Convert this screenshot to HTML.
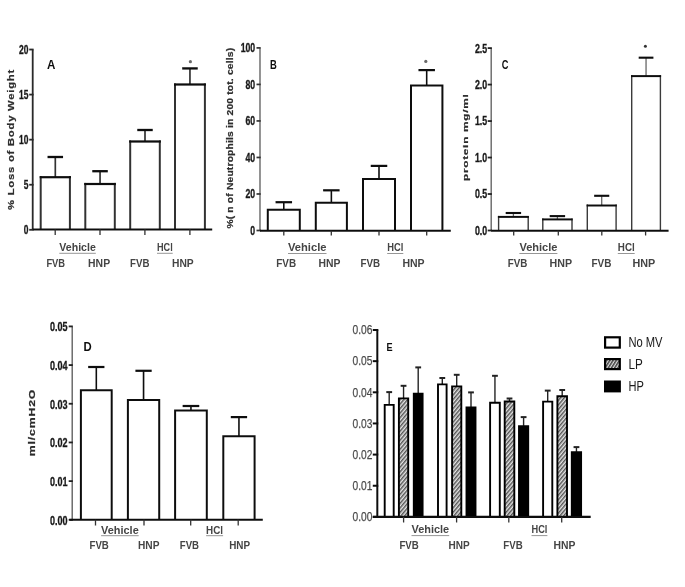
<!DOCTYPE html>
<html><head><meta charset="utf-8"><style>
html,body{margin:0;padding:0;background:#fff;}
body{width:685px;height:587px;overflow:hidden;}
svg{display:block;}
</style></head><body>
<svg width="685" height="587" viewBox="0 0 685 587" font-family='"Liberation Sans", sans-serif'>
<defs><filter id="soft" x="0" y="0" width="100%" height="100%"><feGaussianBlur stdDeviation="0.4"/></filter><pattern id="hatch" patternUnits="userSpaceOnUse" width="2.9" height="2.9" patternTransform="rotate(40)"><rect width="2.9" height="2.9" fill="#e4e4e4"/><rect width="1.45" height="2.9" fill="#555"/></pattern><pattern id="hatch2" patternUnits="userSpaceOnUse" width="2.7" height="2.7" patternTransform="rotate(32)"><rect width="2.7" height="2.7" fill="#e0e0e0"/><rect width="1.5" height="2.7" fill="#444"/></pattern></defs>
<rect width="685" height="587" fill="#fff"/>
<g filter="url(#soft)">
<line x1="32.7" y1="49.5" x2="32.7" y2="229.6" stroke="#2a2a2a" stroke-width="1.8"/>
<line x1="29.2" y1="229.8" x2="33.6" y2="229.8" stroke="#2a2a2a" stroke-width="1.8"/>
<text x="28.4" y="234.2" font-size="12.5" font-weight="bold" fill="#1a1a1a" text-anchor="end" textLength="4.7" lengthAdjust="spacingAndGlyphs" stroke="#1a1a1a" stroke-width="0.35">0</text>
<line x1="29.2" y1="184.73" x2="33.6" y2="184.73" stroke="#2a2a2a" stroke-width="1.8"/>
<text x="28.4" y="189.13" font-size="12.5" font-weight="bold" fill="#1a1a1a" text-anchor="end" textLength="4.7" lengthAdjust="spacingAndGlyphs" stroke="#1a1a1a" stroke-width="0.35">5</text>
<line x1="29.2" y1="139.66" x2="33.6" y2="139.66" stroke="#2a2a2a" stroke-width="1.8"/>
<text x="28.4" y="144.06" font-size="12.5" font-weight="bold" fill="#1a1a1a" text-anchor="end" textLength="9.4" lengthAdjust="spacingAndGlyphs" stroke="#1a1a1a" stroke-width="0.35">10</text>
<line x1="29.2" y1="94.59" x2="33.6" y2="94.59" stroke="#2a2a2a" stroke-width="1.8"/>
<text x="28.4" y="98.99" font-size="12.5" font-weight="bold" fill="#1a1a1a" text-anchor="end" textLength="9.4" lengthAdjust="spacingAndGlyphs" stroke="#1a1a1a" stroke-width="0.35">15</text>
<line x1="29.2" y1="49.52" x2="33.6" y2="49.52" stroke="#2a2a2a" stroke-width="1.8"/>
<text x="28.4" y="53.92" font-size="12.5" font-weight="bold" fill="#1a1a1a" text-anchor="end" textLength="9.4" lengthAdjust="spacingAndGlyphs" stroke="#1a1a1a" stroke-width="0.35">20</text>
<line x1="55.3" y1="177.2" x2="55.3" y2="157.0" stroke="#333" stroke-width="1.7"/>
<line x1="47.55" y1="157.0" x2="63.05" y2="157.0" stroke="#0a0a0a" stroke-width="2.3"/>
<rect x="40.7" y="177.2" width="29.20" height="52.40" fill="#fff"/>
<line x1="40.7" y1="229.6" x2="40.7" y2="176.1" stroke="#333" stroke-width="2.0"/>
<line x1="69.9" y1="229.6" x2="69.9" y2="176.1" stroke="#333" stroke-width="2.0"/>
<line x1="39.7" y1="177.2" x2="70.9" y2="177.2" stroke="#0a0a0a" stroke-width="2.2"/>
<line x1="100.05" y1="184.0" x2="100.05" y2="171.2" stroke="#333" stroke-width="1.7"/>
<line x1="92.3" y1="171.2" x2="107.8" y2="171.2" stroke="#0a0a0a" stroke-width="2.3"/>
<rect x="85.3" y="184.0" width="29.50" height="45.60" fill="#fff"/>
<line x1="85.3" y1="229.6" x2="85.3" y2="182.9" stroke="#333" stroke-width="2.0"/>
<line x1="114.8" y1="229.6" x2="114.8" y2="182.9" stroke="#333" stroke-width="2.0"/>
<line x1="84.3" y1="184.0" x2="115.8" y2="184.0" stroke="#0a0a0a" stroke-width="2.2"/>
<line x1="145.0" y1="141.5" x2="145.0" y2="130.0" stroke="#333" stroke-width="1.7"/>
<line x1="137.25" y1="130.0" x2="152.75" y2="130.0" stroke="#0a0a0a" stroke-width="2.3"/>
<rect x="130.2" y="141.5" width="29.60" height="88.10" fill="#fff"/>
<line x1="130.2" y1="229.6" x2="130.2" y2="140.4" stroke="#333" stroke-width="2.0"/>
<line x1="159.8" y1="229.6" x2="159.8" y2="140.4" stroke="#333" stroke-width="2.0"/>
<line x1="129.2" y1="141.5" x2="160.8" y2="141.5" stroke="#0a0a0a" stroke-width="2.2"/>
<line x1="189.95" y1="84.5" x2="189.95" y2="68.4" stroke="#333" stroke-width="1.7"/>
<line x1="182.2" y1="68.4" x2="197.7" y2="68.4" stroke="#0a0a0a" stroke-width="2.3"/>
<rect x="175.0" y="84.5" width="29.90" height="145.10" fill="#fff"/>
<line x1="175.0" y1="229.6" x2="175.0" y2="83.4" stroke="#333" stroke-width="2.0"/>
<line x1="204.9" y1="229.6" x2="204.9" y2="83.4" stroke="#333" stroke-width="2.0"/>
<line x1="174.0" y1="84.5" x2="205.9" y2="84.5" stroke="#0a0a0a" stroke-width="2.2"/>
<line x1="32.7" y1="229.6" x2="212.2" y2="229.6" stroke="#111" stroke-width="2.0"/>
<line x1="55.2" y1="229.6" x2="55.2" y2="235" stroke="#333" stroke-width="1.3"/>
<line x1="100.0" y1="229.6" x2="100.0" y2="235" stroke="#333" stroke-width="1.3"/>
<line x1="144.9" y1="229.6" x2="144.9" y2="235" stroke="#333" stroke-width="1.3"/>
<line x1="189.9" y1="229.6" x2="189.9" y2="235" stroke="#333" stroke-width="1.3"/>
<circle cx="190.4" cy="61.7" r="1.6" fill="#6a6a6a"/>
<text x="47" y="69.3" font-size="12" font-weight="bold" fill="#111" text-anchor="start" textLength="8.4" lengthAdjust="spacingAndGlyphs">A</text>
<text transform="translate(13.9 210) rotate(-90) scale(1.3057 1)" font-size="8.6" font-weight="bold" fill="#2e2e2e" stroke="#2e2e2e" stroke-width="0.2" letter-spacing="0.6">% Loss of Body Weight</text>
<text x="59.3" y="251.1" font-size="10" font-weight="bold" fill="#444" text-anchor="start" textLength="36.5" lengthAdjust="spacingAndGlyphs">Vehicle</text>
<line x1="59.3" y1="253.3" x2="95.8" y2="253.3" stroke="#8a8a8a" stroke-width="0.9"/>
<text x="157" y="251.1" font-size="10" font-weight="bold" fill="#444" text-anchor="start" textLength="15.7" lengthAdjust="spacingAndGlyphs">HCl</text>
<line x1="157" y1="253.3" x2="172.7" y2="253.3" stroke="#8a8a8a" stroke-width="0.9"/>
<text x="46.4" y="266.5" font-size="10" font-weight="bold" fill="#444" text-anchor="start" textLength="18.7" lengthAdjust="spacingAndGlyphs">FVB</text>
<text x="88.1" y="266.5" font-size="10" font-weight="bold" fill="#444" text-anchor="start" textLength="22.0" lengthAdjust="spacingAndGlyphs">HNP</text>
<text x="130" y="266.5" font-size="10" font-weight="bold" fill="#444" text-anchor="start" textLength="19.4" lengthAdjust="spacingAndGlyphs">FVB</text>
<text x="172" y="266.5" font-size="10" font-weight="bold" fill="#444" text-anchor="start" textLength="21.7" lengthAdjust="spacingAndGlyphs">HNP</text>
<line x1="260" y1="48.3" x2="260" y2="230.7" stroke="#666" stroke-width="1.4"/>
<line x1="256.5" y1="230.5" x2="260.7" y2="230.5" stroke="#333" stroke-width="1.7"/>
<text x="255.2" y="234.9" font-size="12.5" font-weight="bold" fill="#1a1a1a" text-anchor="end" textLength="4.85" lengthAdjust="spacingAndGlyphs" stroke="#1a1a1a" stroke-width="0.35">0</text>
<line x1="256.5" y1="193.98" x2="260.7" y2="193.98" stroke="#333" stroke-width="1.7"/>
<text x="255.2" y="198.38" font-size="12.5" font-weight="bold" fill="#1a1a1a" text-anchor="end" textLength="9.7" lengthAdjust="spacingAndGlyphs" stroke="#1a1a1a" stroke-width="0.35">20</text>
<line x1="256.5" y1="157.46" x2="260.7" y2="157.46" stroke="#333" stroke-width="1.7"/>
<text x="255.2" y="161.86" font-size="12.5" font-weight="bold" fill="#1a1a1a" text-anchor="end" textLength="9.7" lengthAdjust="spacingAndGlyphs" stroke="#1a1a1a" stroke-width="0.35">40</text>
<line x1="256.5" y1="120.94" x2="260.7" y2="120.94" stroke="#333" stroke-width="1.7"/>
<text x="255.2" y="125.34" font-size="12.5" font-weight="bold" fill="#1a1a1a" text-anchor="end" textLength="9.7" lengthAdjust="spacingAndGlyphs" stroke="#1a1a1a" stroke-width="0.35">60</text>
<line x1="256.5" y1="84.42" x2="260.7" y2="84.42" stroke="#333" stroke-width="1.7"/>
<text x="255.2" y="88.82" font-size="12.5" font-weight="bold" fill="#1a1a1a" text-anchor="end" textLength="9.7" lengthAdjust="spacingAndGlyphs" stroke="#1a1a1a" stroke-width="0.35">80</text>
<line x1="256.5" y1="47.9" x2="260.7" y2="47.9" stroke="#333" stroke-width="1.7"/>
<text x="255.2" y="52.3" font-size="12.5" font-weight="bold" fill="#1a1a1a" text-anchor="end" textLength="14.55" lengthAdjust="spacingAndGlyphs" stroke="#1a1a1a" stroke-width="0.35">100</text>
<line x1="283.8" y1="209.7" x2="283.8" y2="202.2" stroke="#111" stroke-width="1.6"/>
<line x1="275.55" y1="202.2" x2="292.05" y2="202.2" stroke="#111" stroke-width="2.2"/>
<path d="M267.8 230.7 V209.7 H299.8 V230.7" fill="#fff" stroke="#111" stroke-width="2.0"/>
<line x1="331.35" y1="202.7" x2="331.35" y2="190.3" stroke="#111" stroke-width="1.6"/>
<line x1="323.1" y1="190.3" x2="339.6" y2="190.3" stroke="#111" stroke-width="2.2"/>
<path d="M315.8 230.7 V202.7 H346.9 V230.7" fill="#fff" stroke="#111" stroke-width="2.0"/>
<line x1="379.0" y1="178.9" x2="379.0" y2="165.9" stroke="#111" stroke-width="1.6"/>
<line x1="370.75" y1="165.9" x2="387.25" y2="165.9" stroke="#111" stroke-width="2.2"/>
<path d="M363.0 230.7 V178.9 H395.0 V230.7" fill="#fff" stroke="#111" stroke-width="2.0"/>
<line x1="426.7" y1="85.5" x2="426.7" y2="70.1" stroke="#111" stroke-width="1.6"/>
<line x1="418.45" y1="70.1" x2="434.95" y2="70.1" stroke="#111" stroke-width="2.2"/>
<path d="M411.0 230.7 V85.5 H442.4 V230.7" fill="#fff" stroke="#111" stroke-width="2.0"/>
<line x1="260" y1="230.7" x2="450.8" y2="230.7" stroke="#111" stroke-width="2.0"/>
<line x1="283.8" y1="230.7" x2="283.8" y2="235.5" stroke="#333" stroke-width="1.3"/>
<line x1="331.3" y1="230.7" x2="331.3" y2="235.5" stroke="#333" stroke-width="1.3"/>
<line x1="379.0" y1="230.7" x2="379.0" y2="235.5" stroke="#333" stroke-width="1.3"/>
<line x1="426.7" y1="230.7" x2="426.7" y2="235.5" stroke="#333" stroke-width="1.3"/>
<circle cx="425.8" cy="61.4" r="1.6" fill="#6a6a6a"/>
<text x="270.0" y="68.9" font-size="12" font-weight="bold" fill="#111" text-anchor="start" textLength="6.8" lengthAdjust="spacingAndGlyphs">B</text>
<text transform="translate(233.2 228.6) rotate(-90) scale(1.1953 1)" font-size="8.6" font-weight="bold" fill="#2e2e2e" stroke="#2e2e2e" stroke-width="0.2" letter-spacing="0.15">%( n of Neutrophils in 200 tot. cells)</text>
<text x="288" y="251.3" font-size="10" font-weight="bold" fill="#444" text-anchor="start" textLength="38.5" lengthAdjust="spacingAndGlyphs">Vehicle</text>
<line x1="288" y1="253.5" x2="326.5" y2="253.5" stroke="#8a8a8a" stroke-width="0.9"/>
<text x="387.2" y="251.3" font-size="10" font-weight="bold" fill="#444" text-anchor="start" textLength="16.1" lengthAdjust="spacingAndGlyphs">HCl</text>
<line x1="387.2" y1="253.5" x2="403.3" y2="253.5" stroke="#8a8a8a" stroke-width="0.9"/>
<text x="276.3" y="266.5" font-size="10" font-weight="bold" fill="#444" text-anchor="start" textLength="19.8" lengthAdjust="spacingAndGlyphs">FVB</text>
<text x="318.6" y="266.5" font-size="10" font-weight="bold" fill="#444" text-anchor="start" textLength="21.9" lengthAdjust="spacingAndGlyphs">HNP</text>
<text x="360.4" y="266.5" font-size="10" font-weight="bold" fill="#444" text-anchor="start" textLength="19.6" lengthAdjust="spacingAndGlyphs">FVB</text>
<text x="402.4" y="266.5" font-size="10" font-weight="bold" fill="#444" text-anchor="start" textLength="22.2" lengthAdjust="spacingAndGlyphs">HNP</text>
<line x1="491.2" y1="48.4" x2="491.2" y2="230.7" stroke="#666" stroke-width="1.4"/>
<line x1="487.7" y1="230.5" x2="491.9" y2="230.5" stroke="#222" stroke-width="1.8"/>
<text x="487.2" y="234.9" font-size="12.5" font-weight="bold" fill="#1a1a1a" text-anchor="end" textLength="12.3" lengthAdjust="spacingAndGlyphs" stroke="#1a1a1a" stroke-width="0.35">0.0</text>
<line x1="487.7" y1="194.02" x2="491.9" y2="194.02" stroke="#222" stroke-width="1.8"/>
<text x="487.2" y="198.42" font-size="12.5" font-weight="bold" fill="#1a1a1a" text-anchor="end" textLength="12.3" lengthAdjust="spacingAndGlyphs" stroke="#1a1a1a" stroke-width="0.35">0.5</text>
<line x1="487.7" y1="157.54" x2="491.9" y2="157.54" stroke="#222" stroke-width="1.8"/>
<text x="487.2" y="161.94" font-size="12.5" font-weight="bold" fill="#1a1a1a" text-anchor="end" textLength="12.3" lengthAdjust="spacingAndGlyphs" stroke="#1a1a1a" stroke-width="0.35">1.0</text>
<line x1="487.7" y1="121.06" x2="491.9" y2="121.06" stroke="#222" stroke-width="1.8"/>
<text x="487.2" y="125.46" font-size="12.5" font-weight="bold" fill="#1a1a1a" text-anchor="end" textLength="12.3" lengthAdjust="spacingAndGlyphs" stroke="#1a1a1a" stroke-width="0.35">1.5</text>
<line x1="487.7" y1="84.58" x2="491.9" y2="84.58" stroke="#222" stroke-width="1.8"/>
<text x="487.2" y="88.98" font-size="12.5" font-weight="bold" fill="#1a1a1a" text-anchor="end" textLength="12.3" lengthAdjust="spacingAndGlyphs" stroke="#1a1a1a" stroke-width="0.35">2.0</text>
<line x1="487.7" y1="48.1" x2="491.9" y2="48.1" stroke="#222" stroke-width="1.8"/>
<text x="487.2" y="52.5" font-size="12.5" font-weight="bold" fill="#1a1a1a" text-anchor="end" textLength="12.3" lengthAdjust="spacingAndGlyphs" stroke="#1a1a1a" stroke-width="0.35">2.5</text>
<line x1="513.4" y1="216.9" x2="513.4" y2="213.0" stroke="#666" stroke-width="1.3"/>
<line x1="505.7" y1="213.0" x2="521.1" y2="213.0" stroke="#111" stroke-width="2.1"/>
<rect x="498.6" y="216.9" width="29.60" height="13.80" fill="#fff"/>
<line x1="498.6" y1="230.7" x2="498.6" y2="215.9" stroke="#3a3a3a" stroke-width="1.4"/>
<line x1="528.2" y1="230.7" x2="528.2" y2="215.9" stroke="#3a3a3a" stroke-width="1.4"/>
<line x1="497.9" y1="216.9" x2="528.9" y2="216.9" stroke="#111" stroke-width="2.0"/>
<line x1="557.4" y1="219.4" x2="557.4" y2="216.1" stroke="#666" stroke-width="1.3"/>
<line x1="549.7" y1="216.1" x2="565.1" y2="216.1" stroke="#111" stroke-width="2.1"/>
<rect x="542.8" y="219.4" width="29.20" height="11.30" fill="#fff"/>
<line x1="542.8" y1="230.7" x2="542.8" y2="218.4" stroke="#3a3a3a" stroke-width="1.4"/>
<line x1="572.0" y1="230.7" x2="572.0" y2="218.4" stroke="#3a3a3a" stroke-width="1.4"/>
<line x1="542.1" y1="219.4" x2="572.7" y2="219.4" stroke="#111" stroke-width="2.0"/>
<line x1="601.7" y1="205.5" x2="601.7" y2="195.8" stroke="#666" stroke-width="1.3"/>
<line x1="594.15" y1="195.8" x2="609.25" y2="195.8" stroke="#111" stroke-width="2.1"/>
<rect x="587.3" y="205.5" width="28.80" height="25.20" fill="#fff"/>
<line x1="587.3" y1="230.7" x2="587.3" y2="204.5" stroke="#3a3a3a" stroke-width="1.4"/>
<line x1="616.1" y1="230.7" x2="616.1" y2="204.5" stroke="#3a3a3a" stroke-width="1.4"/>
<line x1="586.6" y1="205.5" x2="616.8" y2="205.5" stroke="#111" stroke-width="2.0"/>
<line x1="646.05" y1="76.1" x2="646.05" y2="57.7" stroke="#666" stroke-width="1.3"/>
<line x1="638.7" y1="57.7" x2="653.4" y2="57.7" stroke="#111" stroke-width="2.1"/>
<rect x="631.7" y="76.1" width="28.70" height="154.60" fill="#fff"/>
<line x1="631.7" y1="230.7" x2="631.7" y2="75.1" stroke="#3a3a3a" stroke-width="1.4"/>
<line x1="660.4" y1="230.7" x2="660.4" y2="75.1" stroke="#3a3a3a" stroke-width="1.4"/>
<line x1="631.0" y1="76.1" x2="661.1" y2="76.1" stroke="#111" stroke-width="2.0"/>
<line x1="491.2" y1="230.7" x2="668.6" y2="230.7" stroke="#111" stroke-width="2.0"/>
<line x1="513.7" y1="230.7" x2="513.7" y2="235.5" stroke="#333" stroke-width="1.3"/>
<line x1="558.3" y1="230.7" x2="558.3" y2="235.5" stroke="#333" stroke-width="1.3"/>
<line x1="601.8" y1="230.7" x2="601.8" y2="235.5" stroke="#333" stroke-width="1.3"/>
<line x1="645.6" y1="230.7" x2="645.6" y2="235.5" stroke="#333" stroke-width="1.3"/>
<circle cx="645.4" cy="46.3" r="1.5" fill="#333"/>
<text x="501.8" y="69.1" font-size="12" font-weight="bold" fill="#111" text-anchor="start" textLength="6.7" lengthAdjust="spacingAndGlyphs">C</text>
<text transform="translate(468.0 181) rotate(-90) scale(1.4733 1)" font-size="8" font-weight="bold" fill="#2a2a2a" stroke="#2a2a2a" stroke-width="0.2" letter-spacing="0.5">protein mg/ml</text>
<text x="519.4" y="251.3" font-size="10" font-weight="bold" fill="#444" text-anchor="start" textLength="38.0" lengthAdjust="spacingAndGlyphs">Vehicle</text>
<line x1="519.4" y1="253.5" x2="557.4" y2="253.5" stroke="#8a8a8a" stroke-width="0.9"/>
<text x="617.8" y="251.3" font-size="10" font-weight="bold" fill="#444" text-anchor="start" textLength="16.9" lengthAdjust="spacingAndGlyphs">HCl</text>
<line x1="617.8" y1="253.5" x2="634.7" y2="253.5" stroke="#8a8a8a" stroke-width="0.9"/>
<text x="507.7" y="266.5" font-size="10" font-weight="bold" fill="#444" text-anchor="start" textLength="19.6" lengthAdjust="spacingAndGlyphs">FVB</text>
<text x="549.5" y="266.5" font-size="10" font-weight="bold" fill="#444" text-anchor="start" textLength="22.5" lengthAdjust="spacingAndGlyphs">HNP</text>
<text x="591.5" y="266.5" font-size="10" font-weight="bold" fill="#444" text-anchor="start" textLength="19.9" lengthAdjust="spacingAndGlyphs">FVB</text>
<text x="632.4" y="266.5" font-size="10" font-weight="bold" fill="#444" text-anchor="start" textLength="22.8" lengthAdjust="spacingAndGlyphs">HNP</text>
<line x1="72.2" y1="327.0" x2="72.2" y2="519.8" stroke="#555" stroke-width="1.3"/>
<line x1="68.7" y1="519.8" x2="72.85" y2="519.8" stroke="#222" stroke-width="1.8"/>
<text x="67.5" y="524.7" font-size="13" font-weight="bold" fill="#1a1a1a" text-anchor="end" textLength="17.6" lengthAdjust="spacingAndGlyphs" stroke="#1a1a1a" stroke-width="0.35">0.00</text>
<line x1="68.7" y1="481.12" x2="72.85" y2="481.12" stroke="#222" stroke-width="1.8"/>
<text x="67.5" y="486.02" font-size="13" font-weight="bold" fill="#1a1a1a" text-anchor="end" textLength="17.6" lengthAdjust="spacingAndGlyphs" stroke="#1a1a1a" stroke-width="0.35">0.01</text>
<line x1="68.7" y1="442.44" x2="72.85" y2="442.44" stroke="#222" stroke-width="1.8"/>
<text x="67.5" y="447.34" font-size="13" font-weight="bold" fill="#1a1a1a" text-anchor="end" textLength="17.6" lengthAdjust="spacingAndGlyphs" stroke="#1a1a1a" stroke-width="0.35">0.02</text>
<line x1="68.7" y1="403.76" x2="72.85" y2="403.76" stroke="#222" stroke-width="1.8"/>
<text x="67.5" y="408.66" font-size="13" font-weight="bold" fill="#1a1a1a" text-anchor="end" textLength="17.6" lengthAdjust="spacingAndGlyphs" stroke="#1a1a1a" stroke-width="0.35">0.03</text>
<line x1="68.7" y1="365.08" x2="72.85" y2="365.08" stroke="#222" stroke-width="1.8"/>
<text x="67.5" y="369.98" font-size="13" font-weight="bold" fill="#1a1a1a" text-anchor="end" textLength="17.6" lengthAdjust="spacingAndGlyphs" stroke="#1a1a1a" stroke-width="0.35">0.04</text>
<line x1="68.7" y1="326.4" x2="72.85" y2="326.4" stroke="#222" stroke-width="1.8"/>
<text x="67.5" y="331.3" font-size="13" font-weight="bold" fill="#1a1a1a" text-anchor="end" textLength="17.6" lengthAdjust="spacingAndGlyphs" stroke="#1a1a1a" stroke-width="0.35">0.05</text>
<line x1="96.3" y1="390.3" x2="96.3" y2="367.0" stroke="#111" stroke-width="1.6"/>
<line x1="88.15" y1="367.0" x2="104.45" y2="367.0" stroke="#111" stroke-width="2.2"/>
<path d="M80.9 519.8 V390.3 H111.7 V519.8" fill="#fff" stroke="#111" stroke-width="2.0"/>
<line x1="143.55" y1="400.0" x2="143.55" y2="370.8" stroke="#111" stroke-width="1.6"/>
<line x1="135.4" y1="370.8" x2="151.7" y2="370.8" stroke="#111" stroke-width="2.2"/>
<path d="M127.9 519.8 V400.0 H159.2 V519.8" fill="#fff" stroke="#111" stroke-width="2.0"/>
<line x1="190.95" y1="410.4" x2="190.95" y2="406.0" stroke="#111" stroke-width="1.6"/>
<line x1="182.65" y1="406.0" x2="199.25" y2="406.0" stroke="#111" stroke-width="2.2"/>
<path d="M175.1 519.8 V410.4 H206.8 V519.8" fill="#fff" stroke="#111" stroke-width="2.0"/>
<line x1="238.95" y1="436.2" x2="238.95" y2="417.1" stroke="#111" stroke-width="1.6"/>
<line x1="230.8" y1="417.1" x2="247.1" y2="417.1" stroke="#111" stroke-width="2.2"/>
<path d="M223.3 519.8 V436.2 H254.6 V519.8" fill="#fff" stroke="#111" stroke-width="2.0"/>
<line x1="69.4" y1="519.8" x2="262.8" y2="519.8" stroke="#111" stroke-width="2.0"/>
<line x1="95.5" y1="519.8" x2="95.5" y2="525.5" stroke="#333" stroke-width="1.3"/>
<line x1="144.0" y1="519.8" x2="144.0" y2="525.5" stroke="#333" stroke-width="1.3"/>
<line x1="190.7" y1="519.8" x2="190.7" y2="525.5" stroke="#333" stroke-width="1.3"/>
<line x1="238.2" y1="519.8" x2="238.2" y2="525.5" stroke="#333" stroke-width="1.3"/>
<text x="83.4" y="350.9" font-size="12" font-weight="bold" fill="#111" text-anchor="start" textLength="8.2" lengthAdjust="spacingAndGlyphs">D</text>
<text transform="translate(34.8 456.2) rotate(-90) scale(1.3687 1)" font-size="9" font-weight="bold" fill="#2a2a2a" stroke="#2a2a2a" stroke-width="0.2" letter-spacing="0.6">ml/cmH2O</text>
<text x="101.1" y="533.5" font-size="10" font-weight="bold" fill="#444" text-anchor="start" textLength="37.6" lengthAdjust="spacingAndGlyphs">Vehicle</text>
<line x1="101.1" y1="535.7" x2="138.7" y2="535.7" stroke="#8a8a8a" stroke-width="0.9"/>
<text x="206.1" y="533.5" font-size="10" font-weight="bold" fill="#444" text-anchor="start" textLength="17.0" lengthAdjust="spacingAndGlyphs">HCl</text>
<line x1="206.1" y1="535.7" x2="223.1" y2="535.7" stroke="#8a8a8a" stroke-width="0.9"/>
<text x="89.5" y="548.8" font-size="10" font-weight="bold" fill="#444" text-anchor="start" textLength="19.3" lengthAdjust="spacingAndGlyphs">FVB</text>
<text x="138" y="548.8" font-size="10" font-weight="bold" fill="#444" text-anchor="start" textLength="21.5" lengthAdjust="spacingAndGlyphs">HNP</text>
<text x="179.8" y="548.8" font-size="10" font-weight="bold" fill="#444" text-anchor="start" textLength="19.2" lengthAdjust="spacingAndGlyphs">FVB</text>
<text x="229.2" y="548.8" font-size="10" font-weight="bold" fill="#444" text-anchor="start" textLength="20.9" lengthAdjust="spacingAndGlyphs">HNP</text>
<line x1="377.3" y1="329.8" x2="377.3" y2="516.9" stroke="#111" stroke-width="2.0"/>
<line x1="372.8" y1="516.9" x2="378.3" y2="516.9" stroke="#111" stroke-width="2.0"/>
<text x="372.4" y="521.1" font-size="13" font-weight="normal" fill="#4a4a4a" text-anchor="end" textLength="19.9" lengthAdjust="spacingAndGlyphs" stroke="#4a4a4a" stroke-width="0.25">0.00</text>
<line x1="372.8" y1="485.75" x2="378.3" y2="485.75" stroke="#111" stroke-width="2.0"/>
<text x="372.4" y="489.95" font-size="13" font-weight="normal" fill="#4a4a4a" text-anchor="end" textLength="19.9" lengthAdjust="spacingAndGlyphs" stroke="#4a4a4a" stroke-width="0.25">0.01</text>
<line x1="372.8" y1="454.6" x2="378.3" y2="454.6" stroke="#111" stroke-width="2.0"/>
<text x="372.4" y="458.8" font-size="13" font-weight="normal" fill="#4a4a4a" text-anchor="end" textLength="19.9" lengthAdjust="spacingAndGlyphs" stroke="#4a4a4a" stroke-width="0.25">0.02</text>
<line x1="372.8" y1="423.45" x2="378.3" y2="423.45" stroke="#111" stroke-width="2.0"/>
<text x="372.4" y="427.65" font-size="13" font-weight="normal" fill="#4a4a4a" text-anchor="end" textLength="19.9" lengthAdjust="spacingAndGlyphs" stroke="#4a4a4a" stroke-width="0.25">0.03</text>
<line x1="372.8" y1="392.3" x2="378.3" y2="392.3" stroke="#111" stroke-width="2.0"/>
<text x="372.4" y="396.5" font-size="13" font-weight="normal" fill="#4a4a4a" text-anchor="end" textLength="19.9" lengthAdjust="spacingAndGlyphs" stroke="#4a4a4a" stroke-width="0.25">0.04</text>
<line x1="372.8" y1="361.15" x2="378.3" y2="361.15" stroke="#111" stroke-width="2.0"/>
<text x="372.4" y="365.35" font-size="13" font-weight="normal" fill="#4a4a4a" text-anchor="end" textLength="19.9" lengthAdjust="spacingAndGlyphs" stroke="#4a4a4a" stroke-width="0.25">0.05</text>
<line x1="372.8" y1="330.0" x2="378.3" y2="330.0" stroke="#111" stroke-width="2.0"/>
<text x="372.4" y="334.2" font-size="13" font-weight="normal" fill="#4a4a4a" text-anchor="end" textLength="19.9" lengthAdjust="spacingAndGlyphs" stroke="#4a4a4a" stroke-width="0.25">0.06</text>
<line x1="389.2" y1="404.9" x2="389.2" y2="392.1" stroke="#222" stroke-width="1.4"/>
<line x1="386.3" y1="392.1" x2="392.1" y2="392.1" stroke="#222" stroke-width="2.0"/>
<path d="M384.7 516.9 V404.9 H393.7 V516.9" fill="#fff" stroke="#000" stroke-width="1.9"/>
<line x1="403.55" y1="398.4" x2="403.55" y2="385.8" stroke="#222" stroke-width="1.4"/>
<line x1="400.65" y1="385.8" x2="406.45" y2="385.8" stroke="#222" stroke-width="2.0"/>
<path d="M398.9 516.9 V398.4 H408.2 V516.9" fill="url(#hatch)" stroke="#000" stroke-width="1.9"/>
<line x1="418.2" y1="393.6" x2="418.2" y2="367.4" stroke="#222" stroke-width="1.4"/>
<line x1="415.3" y1="367.4" x2="421.1" y2="367.4" stroke="#222" stroke-width="2.0"/>
<path d="M413.8 516.9 V393.6 H422.6 V516.9" fill="#000" stroke="#000" stroke-width="1.9"/>
<line x1="442.3" y1="384.4" x2="442.3" y2="378.0" stroke="#222" stroke-width="1.4"/>
<line x1="439.4" y1="378.0" x2="445.2" y2="378.0" stroke="#222" stroke-width="2.0"/>
<path d="M438.0 516.9 V384.4 H446.6 V516.9" fill="#fff" stroke="#000" stroke-width="1.9"/>
<line x1="456.7" y1="386.4" x2="456.7" y2="374.8" stroke="#222" stroke-width="1.4"/>
<line x1="453.8" y1="374.8" x2="459.6" y2="374.8" stroke="#222" stroke-width="2.0"/>
<path d="M452.1 516.9 V386.4 H461.3 V516.9" fill="url(#hatch)" stroke="#000" stroke-width="1.9"/>
<line x1="471.0" y1="407.5" x2="471.0" y2="392.4" stroke="#222" stroke-width="1.4"/>
<line x1="468.1" y1="392.4" x2="473.9" y2="392.4" stroke="#222" stroke-width="2.0"/>
<path d="M466.5 516.9 V407.5 H475.5 V516.9" fill="#000" stroke="#000" stroke-width="1.9"/>
<line x1="494.95" y1="402.8" x2="494.95" y2="375.8" stroke="#222" stroke-width="1.4"/>
<line x1="492.05" y1="375.8" x2="497.85" y2="375.8" stroke="#222" stroke-width="2.0"/>
<path d="M490.1 516.9 V402.8 H499.8 V516.9" fill="#fff" stroke="#000" stroke-width="1.9"/>
<line x1="509.5" y1="401.5" x2="509.5" y2="398.5" stroke="#222" stroke-width="1.4"/>
<line x1="506.6" y1="398.5" x2="512.4" y2="398.5" stroke="#222" stroke-width="2.0"/>
<path d="M504.7 516.9 V401.5 H514.3 V516.9" fill="url(#hatch)" stroke="#000" stroke-width="1.9"/>
<line x1="523.6" y1="426.1" x2="523.6" y2="417.1" stroke="#222" stroke-width="1.4"/>
<line x1="520.7" y1="417.1" x2="526.5" y2="417.1" stroke="#222" stroke-width="2.0"/>
<path d="M519.0 516.9 V426.1 H528.2 V516.9" fill="#000" stroke="#000" stroke-width="1.9"/>
<line x1="547.7" y1="401.6" x2="547.7" y2="390.6" stroke="#222" stroke-width="1.4"/>
<line x1="544.8" y1="390.6" x2="550.6" y2="390.6" stroke="#222" stroke-width="2.0"/>
<path d="M543.1 516.9 V401.6 H552.3 V516.9" fill="#fff" stroke="#000" stroke-width="1.9"/>
<line x1="562.2" y1="396.3" x2="562.2" y2="390.0" stroke="#222" stroke-width="1.4"/>
<line x1="559.3" y1="390.0" x2="565.1" y2="390.0" stroke="#222" stroke-width="2.0"/>
<path d="M557.4 516.9 V396.3 H567.0 V516.9" fill="url(#hatch)" stroke="#000" stroke-width="1.9"/>
<line x1="576.45" y1="452.1" x2="576.45" y2="447.1" stroke="#222" stroke-width="1.4"/>
<line x1="573.55" y1="447.1" x2="579.35" y2="447.1" stroke="#222" stroke-width="2.0"/>
<path d="M571.8 516.9 V452.1 H581.1 V516.9" fill="#000" stroke="#000" stroke-width="1.9"/>
<line x1="372.8" y1="516.9" x2="590.7" y2="516.9" stroke="#111" stroke-width="2.2"/>
<line x1="403.6" y1="516.9" x2="403.6" y2="522.5" stroke="#333" stroke-width="1.3"/>
<line x1="456.6" y1="516.9" x2="456.6" y2="522.5" stroke="#333" stroke-width="1.3"/>
<line x1="508.8" y1="516.9" x2="508.8" y2="522.5" stroke="#333" stroke-width="1.3"/>
<line x1="561.7" y1="516.9" x2="561.7" y2="522.5" stroke="#333" stroke-width="1.3"/>
<text x="386.4" y="350.9" font-size="11" font-weight="bold" fill="#111" text-anchor="start" textLength="6.1" lengthAdjust="spacingAndGlyphs">E</text>
<rect x="605.1" y="337.3" width="14.70" height="10.30" fill="#fff" stroke="#000" stroke-width="2.2"/>
<rect x="605.1" y="359.1" width="14.70" height="10.00" fill="url(#hatch2)" stroke="#000" stroke-width="2.2"/>
<rect x="605.1" y="381.6" width="14.70" height="9.70" fill="#000" stroke="#000" stroke-width="2.2"/>
<text x="628.4" y="347.3" font-size="14" font-weight="normal" fill="#1a1a1a" text-anchor="start" textLength="34.1" lengthAdjust="spacingAndGlyphs">No MV</text>
<text x="628.4" y="369.1" font-size="14" font-weight="normal" fill="#1a1a1a" text-anchor="start" textLength="14.3" lengthAdjust="spacingAndGlyphs">LP</text>
<text x="628.4" y="391.4" font-size="14" font-weight="normal" fill="#1a1a1a" text-anchor="start" textLength="15.4" lengthAdjust="spacingAndGlyphs">HP</text>
<text x="411.5" y="533.4" font-size="10" font-weight="bold" fill="#444" text-anchor="start" textLength="37.7" lengthAdjust="spacingAndGlyphs">Vehicle</text>
<line x1="411.5" y1="535.6" x2="449.2" y2="535.6" stroke="#8a8a8a" stroke-width="0.9"/>
<text x="531.5" y="533.4" font-size="10" font-weight="bold" fill="#444" text-anchor="start" textLength="15.9" lengthAdjust="spacingAndGlyphs">HCl</text>
<line x1="531.5" y1="535.6" x2="547.4" y2="535.6" stroke="#8a8a8a" stroke-width="0.9"/>
<text x="399.4" y="548.8" font-size="10" font-weight="bold" fill="#444" text-anchor="start" textLength="19.3" lengthAdjust="spacingAndGlyphs">FVB</text>
<text x="448.5" y="548.8" font-size="10" font-weight="bold" fill="#444" text-anchor="start" textLength="21.2" lengthAdjust="spacingAndGlyphs">HNP</text>
<text x="503.3" y="548.8" font-size="10" font-weight="bold" fill="#444" text-anchor="start" textLength="19.3" lengthAdjust="spacingAndGlyphs">FVB</text>
<text x="553.6" y="548.8" font-size="10" font-weight="bold" fill="#444" text-anchor="start" textLength="21.9" lengthAdjust="spacingAndGlyphs">HNP</text>
</g>
</svg>
</body></html>
